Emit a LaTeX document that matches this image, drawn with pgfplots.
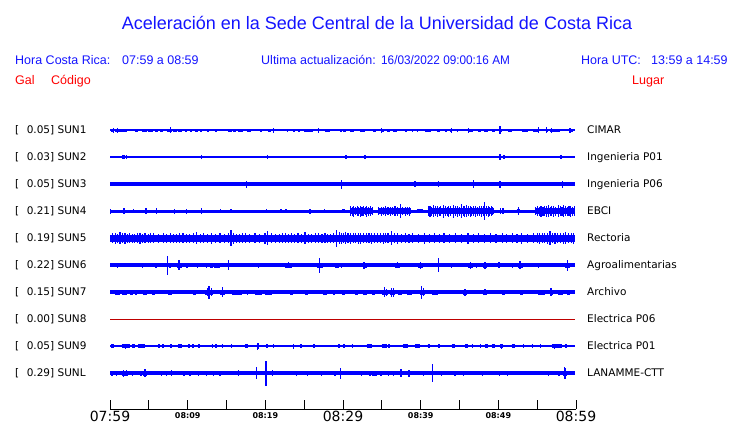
\documentclass[border=0pt]{standalone}
\usepackage{fontspec}
\setmainfont{Liberation Sans}
\newfontfamily\dv{DejaVu Sans}
\usepackage{graphicx}
\usepackage{pgfplots}
\pgfplotsset{compat=1.18}
\definecolor{trc}{RGB}{0,0,255}
\definecolor{hdr}{RGB}{20,20,255}
\definecolor{rd}{RGB}{255,0,0}
\definecolor{rd8}{RGB}{190,0,0}
\newcommand\bigf{\dv\fontsize{14}{14}\selectfont}
\newcommand\smf{\dv\bfseries\fontsize{8}{8}\selectfont}
\pgfplotsset{
  base/.style={trc, line width=#1, forget plot},
  blob/.style={trc, line width=#1, unbounded coords=jump, forget plot},
  spk/.style={draw=none, mark=none, forget plot,
    error bars/.cd, y dir=both, y explicit, error mark=none,
    error bar style={draw=trc, line width=1.1pt}},
}
\begin{document}
\begin{tikzpicture}
\path[use as bounding box] (0pt,0pt) rectangle (740pt,-423pt);
% header
\node[anchor=base, inner sep=0pt, text=hdr, font=\fontsize{18}{18}\selectfont] at (377pt,-29.5pt) {Aceleración en la Sede Central de la Universidad de Costa Rica};
\begin{scope}[every node/.style={anchor=base west, inner sep=0pt, text=hdr, font=\fontsize{12.5}{12.5}\selectfont}]
\node at (15pt,-64.5pt) {Hora Costa Rica:};
\node at (122pt,-64.5pt) {07:59 a 08:59};
\node at (261pt,-64.5pt) {Ultima actualización:};
\node at (381pt,-64.5pt) {\scalebox{0.94}[1]{16/03/2022 09:00:16 AM}};
\node at (581pt,-64.5pt) {Hora UTC:};
\node at (651pt,-64.5pt) {13:59 a 14:59};
\node[text=rd] at (15pt,-84.5pt) {Gal};
\node[text=rd] at (51pt,-84.5pt) {Código};
\node[text=rd] at (632pt,-84.5pt) {Lugar};
\end{scope}
% station labels
\foreach \y/\v/\c/\l in {130/0.05/SUN1/CIMAR, 157/0.03/SUN2/Ingenieria P01, 184/0.05/SUN3/Ingenieria P06, 211/0.21/SUN4/EBCI, 238/0.19/SUN5/Rectoria, 265/0.22/SUN6/Agroalimentarias, 292/0.15/SUN7/Archivo, 319/0.00/SUN8/Electrica P06, 346/0.05/SUN9/Electrica P01, 373/0.29/SUNL/LANAMME-CTT}{
  \node[anchor=base west, inner sep=0pt, font=\dv\fontsize{10.5}{10.5}\selectfont] at (15pt,{-(\y+3.8)*1pt}) {[\hspace{7.5pt}\v] \c};
  \node[anchor=base west, inner sep=0pt, font=\dv\fontsize{10.5}{10.5}\selectfont] at (587pt,{-(\y+3.8)*1pt}) {\l};
}
\begin{axis}[
  at={(110pt,-409pt)}, anchor=south west,
  scale only axis, width=466pt, height=300pt,
  xmin=0, xmax=60, ymin=0, ymax=300,
  clip=false,
  axis x line*=bottom, axis y line=none,
  x axis line style={-, black, line width=0.9pt},
  xtick={0,5,...,60}, tick align=inside, major tick length=9pt,
  xtick style={black, line width=0.9pt},
  xticklabels={{\bigf 07:59},{},{\smf 08:09},{},{\smf 08:19},{},{\bigf 08:29},{},{\smf 08:39},{},{\smf 08:49},{},{\bigf 08:59}},
  xticklabel style={anchor=center, yshift=-7pt, inner sep=0pt, text=black},
  ytick=\empty,
]
%================ SUN1 (y=279)
\addplot[base=1.6pt] coordinates {(0,279) (59.9,279)};
\addplot[blob=3pt] table[x=t, y expr=279, row sep=\\] {t\\0.13\\0.43\\nan\\0.64\\2.15\\nan\\3.22\\3.65\\nan\\4.08\\4.72\\nan\\4.94\\5.58\\nan\\5.79\\6.22\\nan\\6.44\\6.87\\nan\\7.30\\7.94\\nan\\8.15\\8.58\\nan\\8.80\\9.23\\nan\\9.66\\9.87\\nan\\10.30\\10.52\\nan\\10.94\\11.29\\nan\\11.59\\11.80\\nan\\12.45\\12.75\\nan\\13.52\\13.73\\nan\\15.24\\15.67\\nan\\15.88\\16.18\\nan\\16.52\\17.17\\nan\\17.60\\18.15\\nan\\19.31\\19.53\\nan\\20.39\\20.69\\nan\\22.75\\22.88\\nan\\23.61\\23.82\\nan\\24.25\\24.46\\nan\\25.02\\26.18\\nan\\27.68\\28.33\\nan\\29.61\\29.83\\nan\\30.04\\30.34\\nan\\30.90\\31.46\\nan\\32.19\\32.83\\nan\\33.91\\34.21\\nan\\34.98\\35.32\\nan\\35.62\\36.05\\nan\\36.48\\36.91\\nan\\37.98\\38.20\\nan\\38.84\\39.06\\nan\\39.49\\39.70\\nan\\40.56\\41.33\\nan\\42.06\\42.49\\nan\\43.13\\43.35\\nan\\43.78\\44.00\\nan\\44.64\\44.85\\nan\\46.14\\46.78\\nan\\47.43\\47.77\\nan\\48.20\\48.71\\nan\\49.14\\49.57\\nan\\50.13\\50.43\\nan\\51.29\\51.80\\nan\\53.01\\53.87\\nan\\54.51\\55.15\\nan\\56.22\\56.44\\nan\\56.65\\57.94\\nan\\59.23\\59.66\\};
\addplot[spk] table[x=t, y expr=279, y error=a, row sep=\\] {t a\\0.4 2.5\\1.0 2.5\\7.81 3\\21.0 2.5\\26.83 2.5\\35.0 2.5\\44.00 2.5\\46.14 2.5\\50.22 4\\55.15 3\\56.22 3\\56.87 2.5\\59.23 2.5\\};
%================ SUN2 (y=252)
\addplot[base=1.6pt] coordinates {(0,252) (59.9,252)};
\addplot[blob=4pt] table[x=t, y expr=252, row sep=\\] {t\\1.59\\1.93\\nan\\2.02\\2.15\\nan\\57.94\\58.24\\};
\addplot[spk] table[x=t, y expr=252, y error=a, row sep=\\] {t a\\11.80 2\\20.26 2\\30.39 2\\32.83 2\\50.22 3\\50.73 2\\};
%================ SUN3 (y=225)
\addplot[base=4.2pt] coordinates {(0,225) (59.9,225)};
\addplot[spk] table[x=t, y expr=225, y error=a, row sep=\\] {t a\\17.60 3.5\\29.83 4.5\\39.27 3\\42.28 3\\46.78 4\\50.22 3.5\\58.24 3.5\\};
%================ SUN4 (y=198)
\addplot[base=3pt] coordinates {(0,198) (59.9,198)};
\addplot[blob=4.5pt] table[x=t, y expr=198, row sep=\\] {t\\29.91\\30.20\\nan\\39.5\\40.3\\nan\\52.4\\52.8\\};
\addplot[blob=5.5pt] table[x=t, y expr=198, row sep=\\] {t\\30.9\\33.9\\nan\\34.5\\38.8\\nan\\54.7\\59.9\\};
\addplot[blob=6pt] table[x=t, y expr=198, row sep=\\] {t\\40.9\\49.4\\};
\addplot[spk] table[x=t, y expr=198, y error=a, row sep=\\] {t a\\0.1 2.5\\1.80 3\\3.0 2\\4.64 3\\6.01 3\\8.28 2.5\\9.87 2.5\\11.80 3\\14.25 2\\15.58 2\\20.17 2\\22.02 2\\22.66 2\\25.75 2.5\\27.60 2\\30.95 5\\31.2 4.5\\31.4 5.5\\31.6 4\\31.85 5\\32.0 4.5\\32.2 5.5\\32.45 4.5\\32.6 5\\32.85 4\\33.05 5.5\\33.3 4.5\\33.5 5\\33.75 4\\34.6 4\\34.9 4.5\\35.2 4\\35.5 5\\35.8 4\\36.1 4.5\\36.4 4\\36.7 5\\37.0 4.5\\37.43 7\\37.7 4\\38.0 4.5\\38.3 4\\38.6 4.5\\41.0 5\\41.2 5.5\\41.45 4.5\\41.7 6\\41.9 5\\42.15 5.5\\42.4 4.5\\42.6 5\\42.92 6.5\\43.15 5\\43.4 4.5\\43.6 5.5\\43.85 5\\44.21 6.5\\44.45 5\\44.7 5.5\\44.95 4.5\\45.28 7\\45.5 5\\45.7 5.5\\45.92 6\\46.15 5\\46.4 5.5\\46.6 4.5\\46.85 5\\47.1 5.5\\47.35 4.5\\47.6 5\\47.85 5.5\\48.05 5\\48.20 9\\48.45 5\\48.7 5.5\\48.9 4.5\\49.15 5\\49.3 4\\50.3 3\\50.6 3\\52.58 4\\54.8 4\\55.0 5\\55.25 4.5\\55.5 5.5\\55.75 4.5\\56.0 5\\56.22 5.5\\56.44 6\\56.7 4.5\\56.9 5\\57.15 5.5\\57.4 4.5\\57.73 6\\57.95 5\\58.2 4.5\\58.37 6\\58.6 5\\58.85 4.5\\59.1 5\\59.35 5.5\\59.6 4.5\\59.85 5\\};
%================ SUN5 (y=171)
\addplot[base=7pt] coordinates {(0,171) (59.9,171)};
\addplot[spk] table[x=t, y expr=171, y error=a, row sep=\\] {t a\\0.3 5\\0.7 5.5\\1.0 4.5\\1.29 6\\1.6 5\\1.93 5.5\\2.2 4.5\\2.5 5\\2.85 4.5\\3.2 4.5\\3.5 5\\3.86 5.5\\4.2 4.5\\4.5 5\\4.9 4.5\\5.2 5\\5.58 5\\6.2 4.5\\6.87 5\\7.3 4.5\\7.8 5\\8.2 4.5\\8.6 4.5\\9.0 5\\9.4 5\\9.8 4.5\\10.2 4.5\\10.7 5\\11.16 6\\11.6 4.5\\12.0 5\\12.5 4.5\\13.09 5.5\\13.6 4.5\\14.16 5\\14.8 4.5\\15.3 5\\15.58 8\\15.88 5.5\\16.3 4.5\\16.7 4.5\\17.1 5\\17.5 5\\18.0 4.5\\18.67 5\\19.3 4.5\\19.96 5.5\\20.26 7\\20.82 5\\21.3 4.5\\21.8 4.5\\22.2 5\\22.6 5\\23.0 4.5\\23.39 5\\23.8 4.5\\24.2 5\\24.7 4.5\\25.11 6\\25.6 4.5\\26.0 4.5\\26.5 5\\26.9 5\\27.3 4.5\\27.68 5\\28.0 4.5\\28.4 4.5\\28.8 5\\29.19 8.5\\29.5 6\\29.8 5.5\\30.05 5\\30.3 6\\30.65 5\\31.0 5.5\\31.3 5\\31.6 5\\31.95 5.5\\32.3 5.5\\32.65 5\\33.0 5\\33.35 5\\33.7 5.5\\34.1 5\\34.5 5\\34.85 5\\35.2 5.5\\35.5 5\\35.8 5\\36.27 7\\36.6 5\\37.0 5.5\\37.5 4.5\\38.0 5\\38.5 4.5\\39.0 5\\39.7 4.5\\40.5 5.5\\41.1 4.5\\41.8 5\\42.4 4.5\\43.0 5\\43.7 4.5\\44.5 5\\45.3 4.5\\46.1 5.5\\46.8 4.5\\47.5 5\\48.2 4.5\\49.0 5\\49.7 4.5\\50.5 5\\51.1 4.5\\51.8 5\\52.4 4.5\\53.0 5.5\\53.7 4.5\\54.5 5\\55.0 5\\55.3 5.5\\55.7 5\\56.0 5\\56.3 5.5\\56.65 7\\57.0 5\\57.3 5.5\\57.65 5\\58.0 5\\58.35 5.5\\58.7 6\\59.05 5\\59.4 5\\59.7 5.5\\};
%================ SUN6 (y=144)
\addplot[base=3.2pt] coordinates {(0,144) (59.9,144)};
\addplot[blob=5pt] table[x=t, y expr=144, row sep=\\] {t\\8.58\\9.23\\nan\\12.88\\13.31\\nan\\13.52\\14.16\\nan\\22.53\\23.39\\nan\\26.61\\27.47\\nan\\28.97\\29.40\\nan\\32.62\\33.05\\nan\\36.70\\37.34\\nan\\39.70\\40.35\\nan\\46.14\\46.78\\nan\\48.07\\48.50\\nan\\52.58\\53.22\\nan\\58.58\\59.23\\};
\addplot[spk] table[x=t, y expr=144, y error=a, row sep=\\] {t a\\0.99 2.5\\4.21 2.5\\5.92 2.5\\7.38 9.5\\7.73 2.5\\8.88 5\\9.91 2.5\\11.29 2.5\\12.45 2.5\\13.52 2.5\\15.24 5\\19.10 2.5\\22.96 3\\26.95 7.5\\29.40 2.5\\29.83 2.5\\32.71 3.5\\37.04 3\\40.00 3.5\\42.28 7\\44.00 2.5\\46.44 3.5\\47.21 2.5\\48.28 3.5\\50.09 3\\51.80 2.5\\52.79 4\\55.15 2.5\\58.93 5.5\\};
%================ SUN7 (y=117)
\addplot[base=3.4pt] coordinates {(0,117) (59.9,117)};
\addplot[blob=5pt] table[x=t, y expr=117, row sep=\\] {t\\0.64\\1.29\\nan\\1.50\\2.15\\nan\\2.58\\3.00\\nan\\3.22\\3.43\\nan\\4.29\\4.72\\nan\\5.37\\5.79\\nan\\7.51\\7.94\\nan\\10.73\\11.03\\nan\\12.23\\13.31\\nan\\14.16\\14.81\\nan\\15.67\\16.95\\nan\\17.60\\17.81\\nan\\18.67\\19.53\\nan\\19.96\\20.82\\nan\\23.18\\23.61\\nan\\25.11\\25.54\\nan\\27.47\\27.90\\nan\\28.76\\28.97\\nan\\29.83\\30.26\\nan\\31.55\\31.97\\nan\\32.62\\33.05\\nan\\33.69\\34.12\\nan\\34.98\\35.84\\nan\\36.05\\36.70\\nan\\37.13\\37.55\\nan\\38.20\\38.84\\nan\\39.91\\40.56\\nan\\41.42\\42.28\\nan\\45.49\\45.92\\nan\\48.07\\48.50\\nan\\50.43\\50.86\\nan\\52.79\\53.22\\nan\\55.15\\56.01\\nan\\56.65\\57.08\\nan\\57.73\\58.37\\nan\\58.80\\59.23\\};
\addplot[spk] table[x=t, y expr=117, y error=a, row sep=\\] {t a\\12.5 4\\12.75 6.5\\13.09 4\\14.46 5\\35.32 5\\35.6 3.5\\36.3 4.5\\36.48 4.5\\40.13 6.5\\40.4 4\\45.71 3.5\\48.28 3\\56.78 4\\};
%================ SUN8 (y=90)
\addplot[rd8, line width=1pt, forget plot] coordinates {(0,90) (59.9,90)};
%================ SUN9 (y=63)
\addplot[base=1.5pt] coordinates {(0,63) (59.9,63)};
\addplot[blob=3.2pt] table[x=t, y expr=63, row sep=\\] {t\\0.13\\0.56\\nan\\1.50\\2.58\\nan\\2.79\\3.22\\nan\\3.65\\4.51\\nan\\6.22\\6.44\\nan\\6.74\\7.00\\nan\\7.73\\7.94\\nan\\8.80\\9.23\\nan\\10.09\\10.30\\nan\\10.60\\10.77\\nan\\11.37\\11.59\\nan\\13.09\\13.31\\nan\\13.52\\13.73\\nan\\14.38\\14.59\\nan\\15.58\\15.75\\nan\\17.38\\17.81\\nan\\18.89\\19.19\\nan\\20.09\\20.39\\nan\\21.03\\21.12\\nan\\23.61\\23.70\\nan\\24.46\\24.68\\nan\\26.18\\26.40\\nan\\29.40\\29.61\\nan\\30.04\\30.26\\nan\\31.12\\31.33\\nan\\33.05\\33.69\\nan\\34.98\\35.62\\nan\\35.84\\36.05\\nan\\37.77\\38.41\\nan\\39.27\\39.91\\nan\\40.90\\41.20\\nan\\42.28\\42.49\\nan\\44.00\\44.42\\nan\\45.71\\46.14\\nan\\46.57\\46.65\\nan\\47.64\\47.73\\nan\\48.28\\48.71\\nan\\49.14\\49.57\\nan\\50.22\\50.65\\nan\\51.72\\52.15\\nan\\53.22\\53.30\\nan\\54.30\\54.38\\nan\\55.37\\55.45\\nan\\56.87\\58.16\\nan\\58.58\\58.80\\};
\addplot[spk] table[x=t, y expr=63, y error=a, row sep=\\] {t a\\2.0 2.5\\19.01 3.5\\19.1 3\\23.61 2.5\\50.4 2.5\\57.2 2.5\\};
%================ SUNL (y=36)
\addplot[base=3.4pt] coordinates {(0,36) (59.9,36)};
\addplot[blob=5pt] table[x=t, y expr=36, row sep=\\] {t\\0.13\\0.43\\nan\\1.59\\2.36\\nan\\4.29\\4.72\\nan\\16.44\\16.61\\nan\\33.69\\34.21\\nan\\37.34\\37.55\\nan\\58.37\\58.80\\};
\addplot[spk] table[x=t, y expr=36, y error=a, row sep=\\] {t a\\0.21 2.5\\0.86 2.5\\1.72 3.5\\2.15 3\\2.88 2.5\\3.99 2.5\\4.51 4\\6.65 2.5\\7.30 2.5\\7.94 3\\9.53 2.5\\10.30 2.5\\11.37 2.5\\12.45 2.5\\13.31 2.5\\14.16 2.5\\16.5 3\\18.89 6\\20.09 12.5\\20.90 3\\24.03 2.5\\25.45 2.5\\27.25 2.5\\28.97 2.5\\29.70 5.5\\32.40 2.5\\33.48 2.5\\34.34 2.5\\34.89 2.5\\35.84 2.5\\36.52 2.5\\37.47 4\\38.50 3.5\\40.35 2.5\\41.55 9\\42.71 2.5\\44.42 2.5\\45.49 2.5\\47.98 2.5\\50.13 2.5\\51.20 2.5\\56.44 2.5\\57.81 2.5\\58.50 6\\58.58 5.5\\};
\end{axis}
\end{tikzpicture}
\end{document}
